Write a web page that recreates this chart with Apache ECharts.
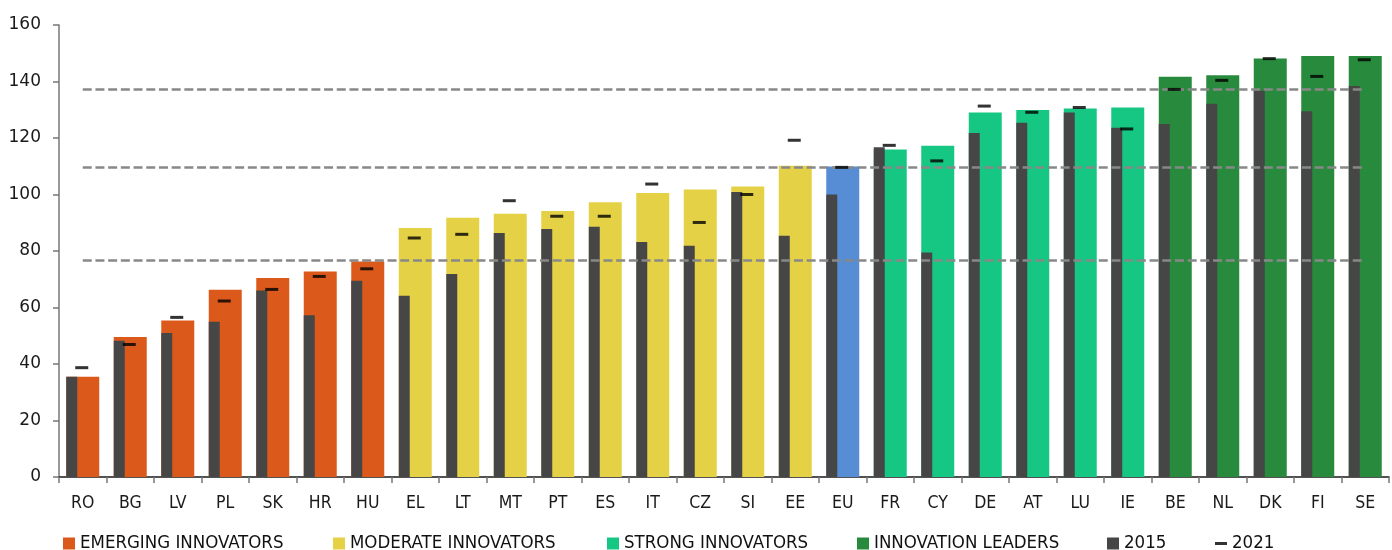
<!DOCTYPE html>
<html>
<head>
<meta charset="utf-8">
<script src="https://cdn.jsdelivr.net/npm/echarts@6/dist/echarts.min.js"></script>
<style>
html,body{margin:0;padding:0;background:#fff;}
#chart{width:1392px;height:550px;}
</style>
</head>
<body>
<div id="chart"></div>
<script>
const categories = ['RO','BG','LV','PL','SK','HR','HU','EL','LT','MT','PT','ES','IT','CZ','SI','EE','EU','FR','CY','DE','AT','LU','IE','BE','NL','DK','FI','SE'];
// group index per category: 0 emerging, 1 moderate, 2 EU, 3 strong, 4 leaders
const groupOf = [0,0,0,0,0,0,0,1,1,1,1,1,1,1,1,1,2,3,3,3,3,3,3,4,4,4,4,4];
const groupNames = ['EMERGING INNOVATORS','MODERATE INNOVATORS','EU','STRONG INNOVATORS','INNOVATION LEADERS'];
const groupColors = ['#DB5A1B','#E4D146','#568DD4','#16C784','#288A3C'];
const mainValues = [35.5,49.6,55.4,66.3,70.4,72.7,76.3,88.1,91.8,93.2,94.2,97.3,100.5,101.8,102.8,110.2,109.9,115.9,117.3,129.0,129.9,130.4,130.8,141.7,142.2,148.1,149.0,149.0];
const values2015 = [35.5,48.2,51.0,55.0,66.0,57.3,69.5,64.2,71.9,86.4,87.8,88.6,83.2,81.9,100.9,85.4,100.0,116.7,79.5,121.8,125.4,129.0,123.6,125.0,132.1,136.7,129.5,138.4];
const values2021 = [38.7,46.9,56.5,62.3,66.4,71.0,73.7,84.6,85.9,97.8,92.3,92.3,103.7,90.1,100.0,119.2,109.6,117.4,111.9,131.3,129.1,130.8,123.2,137.2,140.4,148.1,141.8,147.7];
const thresholds = [137.4,109.8,76.7];
const yTicks = {min:0, max:160, interval:20};

const chart = echarts.init(document.getElementById('chart'), null, {renderer:'canvas'});

const groupSeries = groupNames.map((name, g) => ({
  name: name,
  type: 'bar',
  barWidth: 33,
  barGap: '-100%',
  z: 2,
  itemStyle: {color: groupColors[g]},
  data: mainValues.map((v, i) => groupOf[i] === g ? v : null),
  animation: false
}));

const legendFont = {fontFamily: "'DejaVu Sans Condensed', 'DejaVu Sans', sans-serif", fontSize: 18.5, color: '#111'};
function legendAt(left, item) {
  return {
    show: true, left: left, top: 534, itemWidth: 12, itemHeight: 12, itemGap: 0,
    padding: 0, textStyle: legendFont, selectedMode: false, data: [item]
  };
}

const option = {
  backgroundColor: '#fff',
  animation: false,
  grid: {left: 59, right: 3, top: 25, bottom: 73, containLabel: false},
  legend: [
    legendAt(63, {name: 'EMERGING INNOVATORS', icon: 'rect'}),
    legendAt(333, {name: 'MODERATE INNOVATORS', icon: 'rect'}),
    legendAt(607, {name: 'STRONG INNOVATORS', icon: 'rect'}),
    legendAt(857, {name: 'INNOVATION LEADERS', icon: 'rect'}),
    legendAt(1107, {name: '2015', icon: 'rect'}),
    legendAt(1215, {name: '2021', icon: 'path://M0,0H12V3H0Z'})
  ],
  xAxis: {
    type: 'category',
    data: categories,
    boundaryGap: true,
    axisLine: {show: true, lineStyle: {color: '#1a1a1a', width: 1.5}},
    axisTick: {show: true, length: 6, lineStyle: {color: '#777', width: 1.5}, alignWithLabel: false},
    axisLabel: {margin: 17, fontFamily: "'DejaVu Sans Condensed', 'DejaVu Sans', sans-serif", fontSize: 17.5, color: '#1a1a1a'},
    splitLine: {show: false}
  },
  yAxis: {
    type: 'value',
    min: yTicks.min, max: yTicks.max, interval: yTicks.interval,
    axisLine: {show: true, lineStyle: {color: '#777', width: 1.5}},
    axisTick: {show: true, length: 6, lineStyle: {color: '#777', width: 1.5}},
    axisLabel: {margin: 18, fontFamily: "'DejaVu Sans', sans-serif", fontSize: 17, color: '#1a1a1a'},
    splitLine: {show: false}
  },
  series: [
    {
      name: '2015',
      type: 'bar',
      barWidth: 11,
      barGap: '-100%',
      z: 3,
      itemStyle: {color: '#464646'},
      data: values2015
    },
    ...groupSeries,
    {
      name: 'thresholds',
      type: 'line',
      data: [],
      z: 4,
      markLine: {
        silent: true,
        symbol: ['none','none'],
        label: {show: false},
        lineStyle: {color: '#888', width: 2.5, type: [9, 3.7]},
        data: thresholds.map(v => [
          {coord: [categories[0], v]},
          {coord: [categories[categories.length - 1], v]}
        ])
      }
    },
    {
      name: '2021',
      type: 'scatter',
      z: 5,
      symbol: 'rect',
      symbolSize: [13, 3],
      symbolOffset: [-1, 0],
      itemStyle: {color: '#000'},
      data: values2021
    }
  ]
};
chart.setOption(option);
</script>
</body>
</html>
